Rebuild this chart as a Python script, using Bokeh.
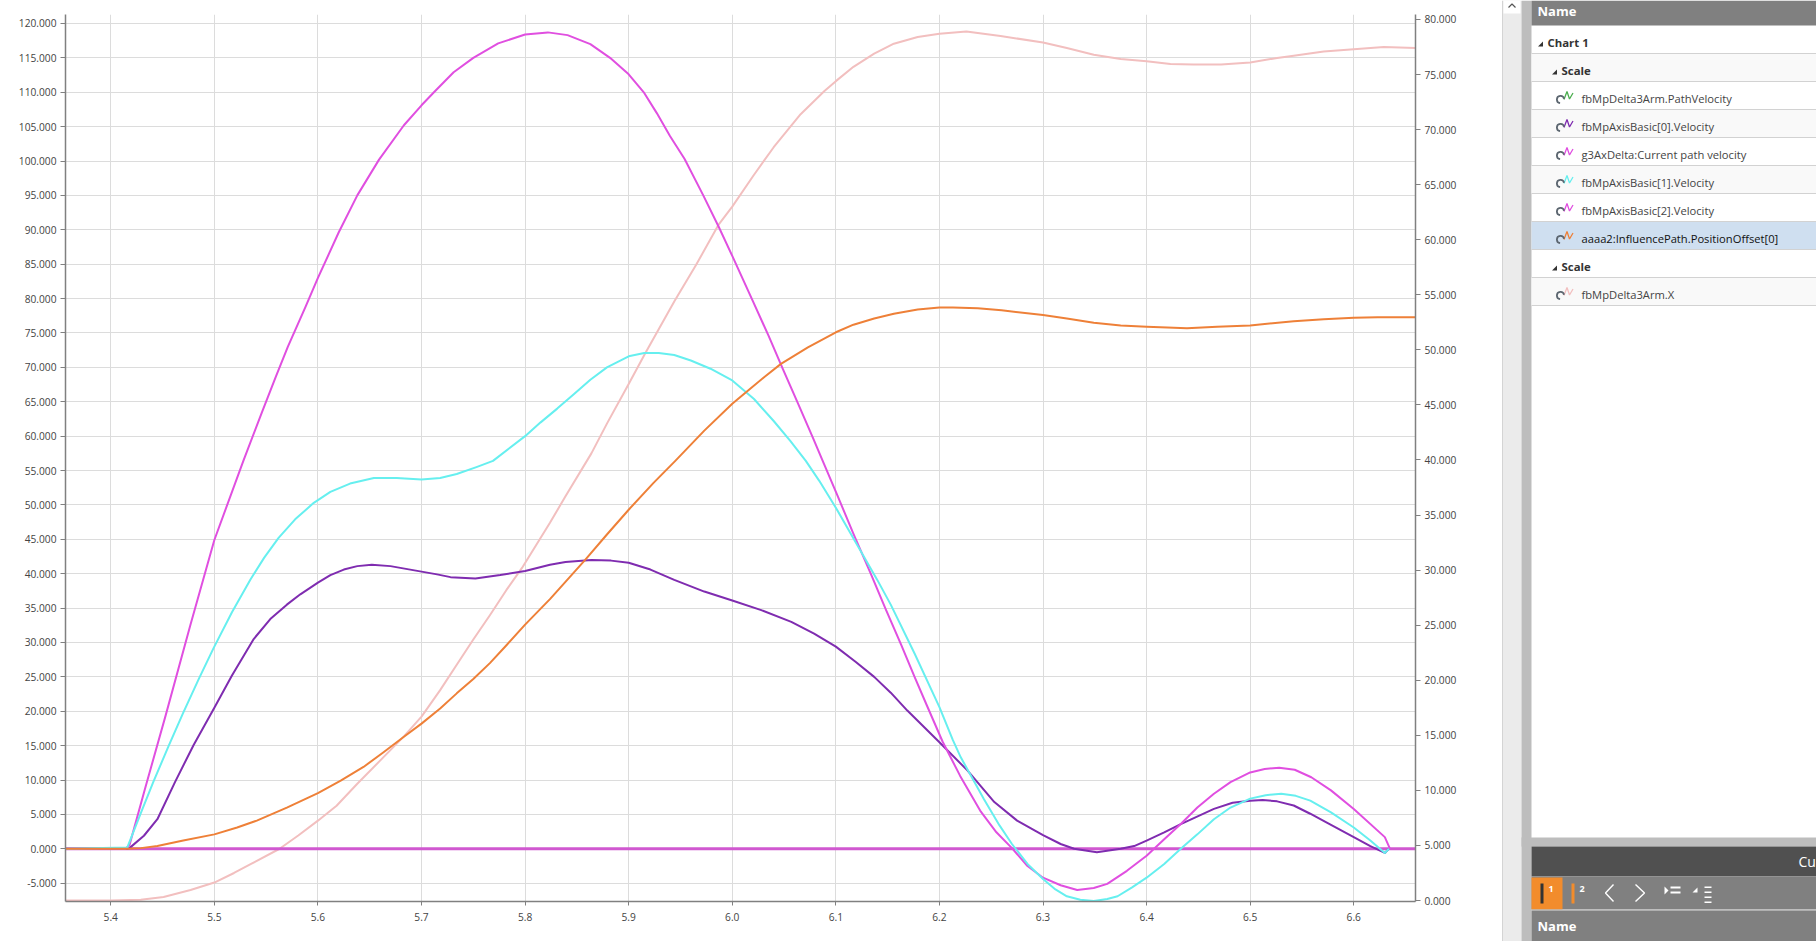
from bokeh.plotting import figure
from bokeh.embed import file_html
from bokeh.resources import INLINE
from bokeh.layouts import row
from bokeh.models import Range1d, LinearAxis, FixedTicker, NumeralTickFormatter
from bokeh.core.properties import value

# ---------- data ----------
x_ticks = [5.4, 5.5, 5.6, 5.7, 5.8, 5.9, 6.0, 6.1, 6.2, 6.3, 6.4, 6.5, 6.6]
left_ticks = [-5, 0, 5, 10, 15, 20, 25, 30, 35, 40, 45, 50, 55, 60, 65, 70, 75, 80, 85, 90, 95, 100, 105, 110, 115, 120]
right_ticks = [0, 5, 10, 15, 20, 25, 30, 35, 40, 45, 50, 55, 60, 65, 70, 75, 80]

zero_x = [5.3563, 6.6596]
zero_y = [0, 0]

purple_x = [5.3563, 5.416, 5.418, 5.432, 5.445, 5.462, 5.48, 5.5, 5.517, 5.538, 5.554, 5.57, 5.583, 5.6, 5.612, 5.625, 5.638, 5.652, 5.67, 5.7, 5.715, 5.728, 5.752, 5.776, 5.8, 5.824, 5.839, 5.864, 5.883, 5.9, 5.921, 5.944, 5.973, 6.0, 6.028, 6.057, 6.079, 6.1, 6.119, 6.137, 6.153, 6.169, 6.2, 6.227, 6.253, 6.275, 6.3, 6.317, 6.33, 6.352, 6.375, 6.388, 6.4, 6.417, 6.433, 6.465, 6.483, 6.5, 6.512, 6.526, 6.542, 6.558, 6.574, 6.6, 6.616, 6.63, 6.634]
purple_y = [0, 0, 0.1, 1.9, 4.3, 9.7, 15.1, 20.5, 25.2, 30.5, 33.4, 35.5, 37, 38.7, 39.8, 40.6, 41.1, 41.3, 41.1, 40.3, 39.9, 39.5, 39.3, 39.8, 40.4, 41.3, 41.7, 42, 41.9, 41.6, 40.6, 39.1, 37.4, 36.1, 34.7, 33, 31.3, 29.4, 27.2, 25, 22.7, 20.1, 15.5, 11.4, 6.8, 4.1, 2, 0.7, 0, -0.5, 0, 0.4, 1.2, 2.4, 3.6, 5.8, 6.7, 7, 7.1, 6.9, 6.3, 5.1, 3.8, 1.7, 0.4, -0.6, 0]

cyan_x = [5.3563, 5.416, 5.429, 5.441, 5.456, 5.47, 5.485, 5.499, 5.517, 5.535, 5.548, 5.562, 5.578, 5.596, 5.612, 5.631, 5.654, 5.676, 5.7, 5.718, 5.734, 5.753, 5.769, 5.8, 5.815, 5.831, 5.847, 5.863, 5.879, 5.9, 5.915, 5.929, 5.944, 5.96, 5.979, 6.0, 6.021, 6.04, 6.056, 6.071, 6.084, 6.1, 6.114, 6.127, 6.14, 6.153, 6.176, 6.2, 6.213, 6.2206, 6.243, 6.258, 6.27, 6.285, 6.3, 6.312, 6.323, 6.336, 6.349, 6.362, 6.372, 6.386, 6.4, 6.417, 6.433, 6.449, 6.465, 6.481, 6.5, 6.515, 6.53, 6.544, 6.558, 6.578, 6.6, 6.616, 6.63, 6.634]
cyan_y = [0, 0.2, 5.2, 9.7, 15, 19.8, 24.7, 29.1, 34.4, 39.2, 42.3, 45.2, 47.9, 50.3, 51.9, 53.1, 53.9, 53.9, 53.7, 53.9, 54.5, 55.5, 56.4, 60, 62, 64, 66.1, 68.2, 70, 71.6, 72.1, 72.1, 71.8, 71, 69.8, 68.1, 65.4, 62.2, 59.3, 56.4, 53.5, 49.6, 45.9, 42.5, 39.1, 35.5, 28.4, 20.6, 15.8, 13.3, 7.2, 3.4, 0.7, -2.2, -4.4, -5.9, -6.9, -7.4, -7.6, -7.3, -6.9, -5.6, -4.2, -2.2, 0, 2.1, 4.3, 6, 7.3, 7.8, 8, 7.7, 7, 5.3, 3.1, 1.2, -0.6, 0]

magenta_x = [5.3563, 5.414, 5.418, 5.433, 5.453, 5.477, 5.5, 5.528, 5.546, 5.559, 5.571, 5.588, 5.6, 5.62, 5.638, 5.659, 5.683, 5.7, 5.712, 5.731, 5.75, 5.774, 5.8, 5.822, 5.841, 5.863, 5.882, 5.9, 5.915, 5.927, 5.94, 5.954, 5.972, 5.987, 6.0, 6.02, 6.035, 6.049, 6.063, 6.078, 6.087, 6.102, 6.117, 6.134, 6.148, 6.163, 6.176, 6.188, 6.203, 6.22, 6.24, 6.255, 6.27, 6.285, 6.3, 6.317, 6.333, 6.349, 6.362, 6.381, 6.4, 6.417, 6.433, 6.449, 6.465, 6.481, 6.5, 6.514, 6.528, 6.543, 6.559, 6.578, 6.6, 6.63, 6.635]
magenta_y = [0, 0, 0.5, 8.7, 19.4, 32.6, 44.9, 56.4, 63.5, 68.5, 73, 78.8, 83, 89.6, 95, 100.2, 105.2, 108.1, 110, 112.9, 115, 117.1, 118.4, 118.7, 118.3, 117, 115, 112.6, 109.9, 107, 103.6, 100.3, 95, 90.4, 86.2, 79.6, 74.6, 69.7, 64.9, 59.7, 56.5, 51.2, 45.8, 39.9, 34.9, 29.7, 25, 20.8, 15.6, 10.6, 5.4, 2.4, 0.1, -2.5, -4.2, -5.3, -6, -5.7, -5.1, -3.2, -1, 1.4, 3.6, 6, 8, 9.7, 11.1, 11.6, 11.8, 11.5, 10.4, 8.5, 5.8, 1.7, 0]

orange_x = [5.3563, 5.416, 5.429, 5.445, 5.47, 5.5, 5.522, 5.541, 5.57, 5.6, 5.622, 5.644, 5.663, 5.683, 5.7, 5.718, 5.734, 5.75, 5.766, 5.782, 5.8, 5.824, 5.858, 5.879, 5.9, 5.924, 5.945, 5.973, 6.0, 6.015, 6.031, 6.047, 6.073, 6.1, 6.117, 6.137, 6.156, 6.179, 6.2, 6.213, 6.237, 6.26, 6.3, 6.323, 6.349, 6.375, 6.4, 6.42, 6.439, 6.468, 6.5, 6.542, 6.571, 6.6, 6.623, 6.6596]
orange_y = [0, 0, 0.1, 0.4, 1.2, 2.1, 3.1, 4.1, 6, 8.1, 9.9, 11.9, 14, 16.3, 18.2, 20.4, 22.6, 24.7, 27, 29.6, 32.6, 36.3, 42, 45.7, 49.3, 53.2, 56.4, 60.8, 64.7, 66.6, 68.6, 70.5, 72.9, 75.1, 76.2, 77.1, 77.8, 78.4, 78.7, 78.7, 78.6, 78.3, 77.6, 77.1, 76.5, 76.1, 75.9, 75.8, 75.7, 75.9, 76.1, 76.7, 77, 77.2, 77.3, 77.3]

# right scale: fbMpDelta3Arm.X
pink_x = [5.3563, 5.4, 5.429, 5.451, 5.477, 5.5, 5.519, 5.535, 5.563, 5.581, 5.6, 5.618, 5.638, 5.66, 5.683, 5.7, 5.718, 5.734, 5.75, 5.766, 5.782, 5.797, 5.824, 5.839, 5.864, 5.879, 5.9, 5.916, 5.944, 5.965, 5.987, 6.0, 6.021, 6.04, 6.066, 6.089, 6.1, 6.117, 6.137, 6.156, 6.179, 6.2, 6.226, 6.259, 6.3, 6.323, 6.349, 6.375, 6.4, 6.423, 6.445, 6.472, 6.5, 6.526, 6.542, 6.571, 6.6, 6.629, 6.6596]
pink_y = [0, 0, 0.06, 0.32, 0.95, 1.63, 2.5, 3.3, 4.7, 5.9, 7.25, 8.6, 10.6, 12.7, 14.9, 16.7, 19.1, 21.4, 23.7, 25.9, 28.2, 30.2, 34.3, 36.7, 40.6, 43.3, 46.9, 49.7, 54.4, 57.7, 61.4, 63, 65.9, 68.4, 71.4, 73.5, 74.4, 75.7, 76.9, 77.8, 78.4, 78.7, 78.9, 78.5, 77.9, 77.4, 76.8, 76.4, 76.2, 75.95, 75.9, 75.9, 76.1, 76.5, 76.7, 77.1, 77.3, 77.5, 77.4]

row_names = ["fbMpDelta3Arm.PathVelocity", "fbMpAxisBasic[0].Velocity", "g3AxDelta:Current path velocity",
             "fbMpAxisBasic[1].Velocity", "fbMpAxisBasic[2].Velocity", "aaaa2:InfluencePath.PositionOffset[0]"]
row_colors = ["#4caf50", "#7f2cb0", "#e04fe0", "#66efef", "#e04fe0", "#ee8038"]
last_name = "fbMpDelta3Arm.X"
last_color = "#f2bfbf"

FONT = "Open Sans"
PURPLE, CYAN, MAGENTA, ORANGE, PINK = "#7f2cb0", "#66efef", "#e04fe0", "#ee8038", "#f2bfbf"

# ---------- chart ----------
p = figure(width=1490, height=941, output_backend="svg", toolbar_location=None,
           x_range=Range1d(5.3563, 6.6596), y_range=Range1d(-7.66, 121.3),
           min_border_left=65, min_border_right=75, min_border_top=14, min_border_bottom=40,
           x_axis_location="below", y_axis_location="left", frame_align=False)
p.outline_line_color = None
p.background_fill_color = "white"
p.margin = 0
p.extra_y_ranges = {"right": Range1d(-0.09, 80.45)}


def style_axis(a):
    a.axis_line_color = "#808080"
    a.axis_line_width = 1.5
    a.major_tick_line_color = "#808080"
    a.major_tick_line_width = 1
    a.major_tick_out = 5
    a.major_tick_in = 0
    a.minor_tick_line_color = None
    a.major_label_text_font = FONT
    a.major_label_text_font_size = "10.2px"
    a.major_label_text_color = "#444444"
    a.major_label_standoff = 4


p.xaxis[0].ticker = FixedTicker(ticks=x_ticks)
p.xaxis[0].formatter = NumeralTickFormatter(format="0.0")
p.yaxis[0].ticker = FixedTicker(ticks=left_ticks)
p.yaxis[0].formatter = NumeralTickFormatter(format="0.000")
ra = LinearAxis(y_range_name="right", ticker=FixedTicker(ticks=right_ticks),
                formatter=NumeralTickFormatter(format="0.000"))
p.add_layout(ra, "right")
for a in (p.xaxis[0], p.yaxis[0], ra):
    style_axis(a)
p.xaxis[0].major_tick_out = 4
p.xaxis[0].major_label_standoff = 7

p.xgrid.ticker = FixedTicker(ticks=x_ticks)
p.ygrid.ticker = FixedTicker(ticks=left_ticks)
p.xgrid.grid_line_color = "#dcdcdc"
p.ygrid.grid_line_color = "#dcdcdc"
p.xgrid.grid_line_width = 1
p.ygrid.grid_line_width = 1

p.line(pink_x, pink_y, y_range_name="right", line_color=PINK, line_width=2, line_join="round")
p.line(zero_x, zero_y, line_color="#d058d0", line_width=3)
p.line(purple_x, purple_y, line_color=PURPLE, line_width=2, line_join="round")
p.line(magenta_x, magenta_y, line_color=MAGENTA, line_width=2, line_join="round")
p.line(cyan_x, cyan_y, line_color=CYAN, line_width=2, line_join="round")
p.line(orange_x, orange_y, line_color=ORANGE, line_width=2, line_join="round")

# ---------- window chrome on the right ----------
q = figure(width=326, height=941, output_backend="svg", toolbar_location=None,
           x_range=Range1d(1490, 1816), y_range=Range1d(941, 0),
           min_border=0, x_axis_type=None, y_axis_type=None, frame_align=False)
q.grid.visible = False
q.outline_line_color = None
q.margin = 0


def box(l, r, t, b, c):
    q.quad(left=[l], right=[r], top=[t], bottom=[b], fill_color=c, line_color=None)


def hline(l, r, y, c, w=1):
    q.line([l, r], [y, y], line_color=c, line_width=w)


def txt(x, y, s, c="#444444", size="11.2px", style="normal"):
    q.text([x], [y], text=[s], text_color=c, text_font=value(FONT), text_font_size=size,
           text_font_style=style, text_baseline="middle", text_align="left")


def tri(x, y):
    q.patch([x, x + 5, x + 5], [y + 2, y + 2, y - 3], fill_color="#333333", line_color=None)


box(1502, 1521, 0, 941, "#ebebeb")
q.line([1502, 1502], [0, 941], line_color="#d4d4d4")
box(1503, 1520, 0, 13, "white")
q.line([1508, 1511.5, 1515], [7, 3.5, 7], line_color="#555555", line_width=1.2)
box(1521, 1531, 0, 941, "#bdbdbd")

box(1531, 1816, 0, 25, "#808080")
txt(1537, 10.5, "Name", "white", "13px", "bold")

alt = [(53, 81), (109, 137), (165, 193), (277, 305)]
for t, b in alt:
    box(1531, 1816, t, b, "#f9f9f9")
box(1531, 1816, 221, 249, "#cfdff0")
for y in (53, 81, 109, 137, 165, 193, 221, 249, 277, 305):
    hline(1531, 1816, y, "#d2d2d2")

tri(1537.5, 44)
txt(1547, 42, "Chart 1", "#333333", "11.4px", "bold")
tri(1551.5, 72)
txt(1561, 70, "Scale", "#333333", "11.4px", "bold")
tri(1551.5, 268)
txt(1561, 266, "Scale", "#333333", "11.4px", "bold")


def icon(y, c):
    q.line([1563.5, 1566.5, 1569, 1572.5], [y + 1.5, y - 6.5, y + 1, y - 5], line_color=c, line_width=1.3)
    q.arc([1560], [y + 1.5], radius=[3.6], start_angle=[0.2], end_angle=[4.6],
          line_color="#5c6670", line_width=1.8)


for i, (name, col) in enumerate(zip(row_names, row_colors)):
    y = 97.5 + 28 * i
    icon(y, col)
    txt(1581, y, name, "#111111" if i == 5 else "#444444")
icon(293.5, last_color)
txt(1581, 293.5, last_name)

# lower dock
box(1521, 1816, 837, 846, "#bdbdbd")
box(1531, 1816, 846, 876, "#505050")
txt(1798, 861, "Cu", "white", "14px")
box(1531, 1816, 876, 909, "#808080")
box(1531, 1562, 877, 909, "#f28c2c")
box(1540, 1543, 883, 903, "#333333")
box(1571, 1574, 883, 903, "#f28c2c")
txt(1548, 888, "1", "white", "9px", "bold")
txt(1579, 888, "2", "white", "9px", "bold")
q.line([1613, 1605, 1613], [884, 892.5, 901], line_color="white", line_width=1.4)
q.line([1635, 1644, 1635], [884, 892.5, 901], line_color="white", line_width=1.4)
q.patch([1664, 1668, 1664], [886, 890, 894], fill_color="white", line_color=None)
box(1670, 1680, 886, 888, "white")
box(1670, 1680, 891, 893, "white")
q.patch([1692, 1697, 1697], [892, 892, 887], fill_color="white", line_color=None)
for yy in (886, 891, 896, 901):
    box(1704, 1711, yy, yy + 1.5, "white")
hline(1531, 1816, 909.5, "#bdbdbd")
box(1531, 1816, 910, 941, "#808080")
txt(1537, 925, "Name", "white", "13px", "bold")

layout = row(p, q, spacing=0)
layout.margin = 0
open("out.html", "w").write(file_html(layout, INLINE))
